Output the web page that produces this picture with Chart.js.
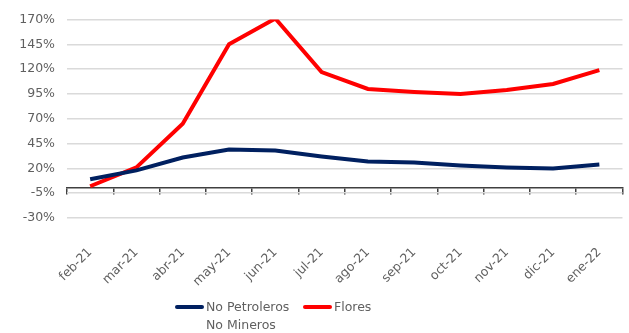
<!DOCTYPE html>
<html>
<head>
<meta charset="utf-8">
<script src="https://cdn.jsdelivr.net/npm/chart.js@4/dist/chart.umd.min.js"></script>
<style>
  html, body { margin: 0; padding: 0; background: #fff; }
  #wrap { position: relative; width: 629px; height: 333px; }
  canvas { display: block; }
  #legend { position: absolute; left: 0; top: 298px; width: 629px; font: 12.5px "DejaVu Sans", sans-serif; color: #606060; }
  .item { position: absolute; top: 0; line-height: 18px; }
  .swatch { display: inline-block; width: 29px; height: 4px; border-radius: 2px; vertical-align: middle; margin-right: 2px; position: relative; top: -1px; }
</style>
</head>
<body>
<div id="wrap">
  <canvas id="chart" width="629" height="333"></canvas>
  <div id="legend">
    <div class="item" style="left:175px"><span class="swatch" style="background:#002060"></span>No Petroleros<br><span style="padding-left:31px">No Mineros</span></div>
    <div class="item" style="left:303px"><span class="swatch" style="background:#ff0000"></span>Flores</div>
  </div>
</div>
<script>
"use strict";
const months = ['feb-21', 'mar-21', 'abr-21', 'may-21', 'jun-21', 'jul-21', 'ago-21', 'sep-21', 'oct-21', 'nov-21', 'dic-21', 'ene-22'];
const noPetroleros = [9, 18, 31, 39, 38, 32, 27, 26, 23, 21, 20, 24];
const flores = [2, 21, 65, 145, 171, 117, 100, 97, 95, 99, 105, 119];
const yTicks = { min: -30, max: 170, step: 25 };

const tickFont = { family: 'DejaVu Sans', size: 12.5 };
const grey = '#606060';

new Chart(document.querySelector('#chart'), {
    type: 'line',
    data: {
        labels: months,
        datasets: [
            { label: 'No Petroleros No Mineros', data: noPetroleros, borderColor: '#002060', borderWidth: 4, pointRadius: 0, tension: 0 },
            { label: 'Flores', data: flores, borderColor: '#ff0000', borderWidth: 4, pointRadius: 0, tension: 0 }
        ]
    },
    options: {
        responsive: false,
        animation: false,
        layout: { padding: { top: 13, right: 1, left: 0, bottom: 0 } },
        plugins: { legend: { display: false }, tooltip: { enabled: false } },
        scales: {
            x: {
                offset: true,
                grid: { display: false },
                border: { display: false },
                ticks: { font: tickFont, color: grey, maxRotation: 45, minRotation: 45, padding: 19 },
                afterFit: (scale) => { scale.height = 115; }
            },
            // axis line with category tick marks, crossing at 0%
            xAxisLine: {
                type: 'category',
                labels: months,
                position: { y: 0 },
                offset: true,
                grid: { offset: true, drawOnChartArea: false, tickLength: 6, color: '#404040', lineWidth: 1.5 },
                border: { display: true, color: '#404040', width: 1.5 },
                ticks: { display: false },
                afterFit: (scale) => { scale.height = 0; }
            },
            y: {
                min: yTicks.min,
                max: yTicks.max,
                ticks: {
                    stepSize: yTicks.step,
                    font: tickFont,
                    color: grey,
                    padding: 12,
                    callback: (v) => v + '%'
                },
                grid: { color: '#dadada', lineWidth: 1.5, drawTicks: false },
                border: { display: false },
                afterFit: (scale) => { scale.width = 67; }
            }
        }
    }
});
</script>
</body>
</html>
